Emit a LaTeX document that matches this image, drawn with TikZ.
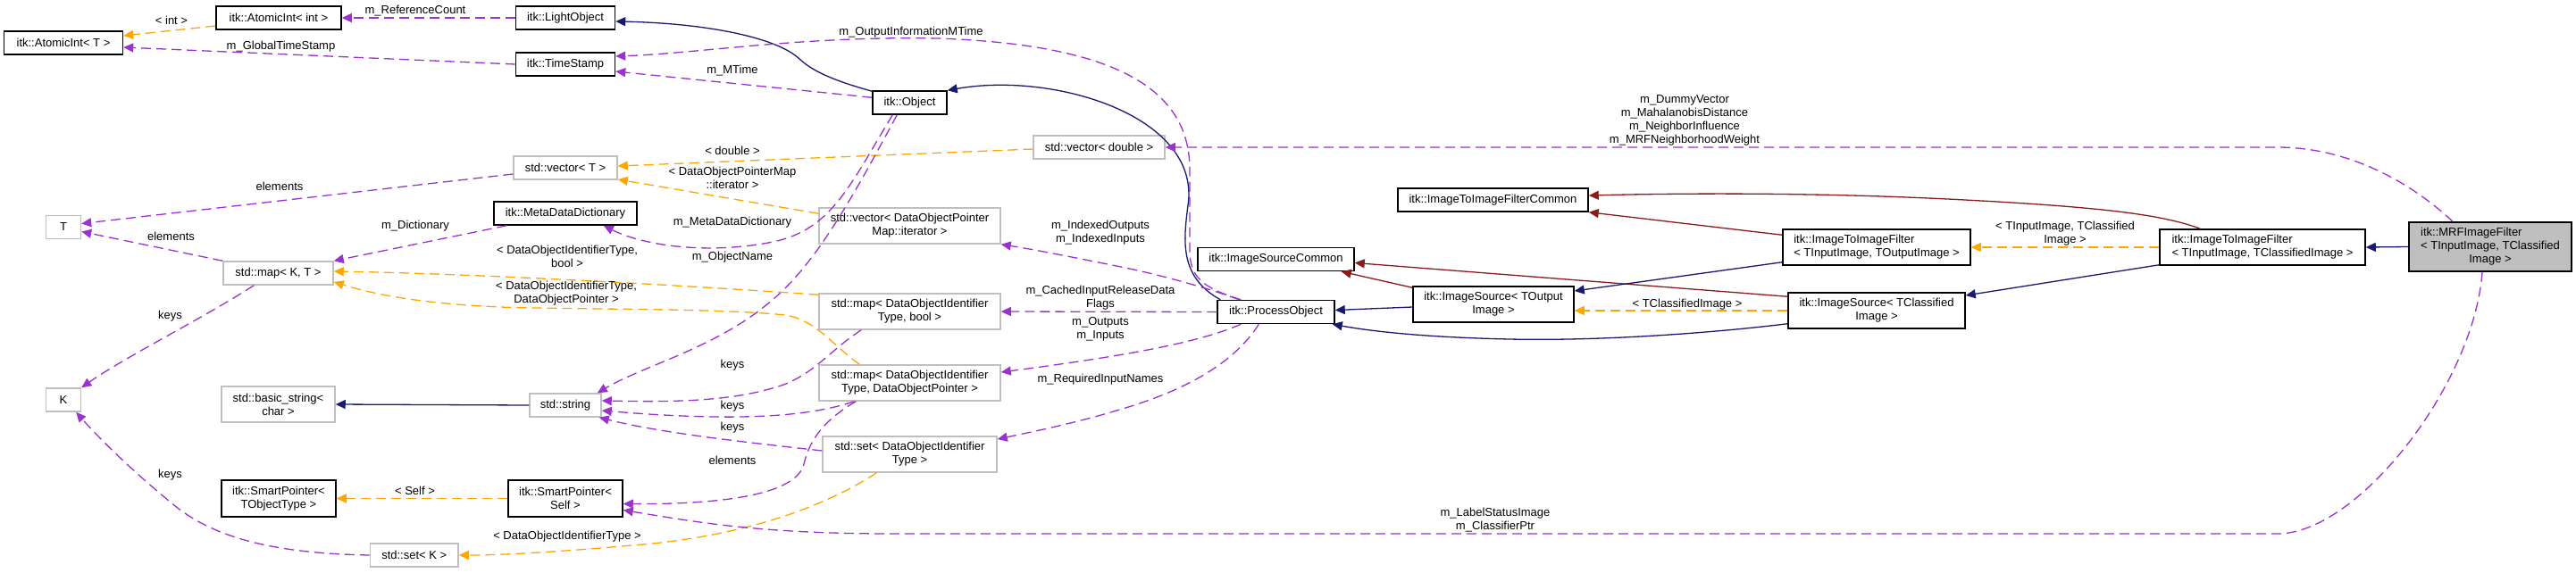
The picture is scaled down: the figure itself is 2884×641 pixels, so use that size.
\documentclass[tikz,border=0pt]{standalone}
\usepackage{fontspec}
\setmainfont{Liberation Sans}
\usetikzlibrary{arrows.meta}
\definecolor{cblue}{HTML}{191970}
\definecolor{cred}{HTML}{8B1A1A}
\definecolor{corange}{HTML}{FFA500}
\definecolor{cpurple}{HTML}{9A32CD}
\definecolor{cgray}{HTML}{BFBFBF}
\tikzset{
  boxk/.style={draw=black,line width=1.5pt,fill=white,inner sep=0pt,align=center},
  boxg/.style={draw=cgray,line width=1.5pt,fill=white,inner sep=0pt,align=center},
  wh/.style 2 args={minimum width=#1pt,minimum height=#2pt},
  tip/.style={-{Triangle[length=11pt,width=10pt]}},
  eblue/.style={draw=cblue,line width=1.3pt,tip},
  ered/.style={draw=cred,line width=1.3pt,tip},
  eorange/.style={draw=corange,line width=1.3pt,dash pattern=on 11pt off 6pt,tip},
  epurple/.style={draw=cpurple,line width=1.3pt,dash pattern=on 11pt off 6pt,tip},
  lbl/.style={inner sep=0pt,align=center}
}
\begin{document}
\begin{tikzpicture}[x=1pt,y=-1pt,
  every node/.style={font=\fontsize{13}{15}\selectfont}]
\useasboundingbox (0,0) rectangle (2884,641);

% nodes
\node[boxk,wh={133}{26}] (ait) at (71,48) {itk::AtomicInt< T >};
\node[boxk,wh={140}{26}] (aii) at (312,20) {itk::AtomicInt< int >};
\node[boxk,wh={111}{26}] (lo) at (633,20) {itk::LightObject};
\node[boxk,wh={111}{26}] (ts) at (633,72) {itk::TimeStamp};
\node[boxk,wh={83}{26}] (obj) at (1018.5,115) {itk::Object};
\node[boxg,wh={147}{26}] (vd) at (1230.5,165) {std::vector< double >};
\node[boxg,wh={116}{26}] (vt) at (633,188) {std::vector< T >};
\node[boxg,wh={39}{26}] (T) at (71,254.5) {T};
\node[boxk,wh={160}{26}] (mdd) at (633,239) {itk::MetaDataDictionary};
\node[boxg,wh={123}{26}] (mkt) at (311.5,306) {std::map< K, T >};
\node[boxg,wh={203}{40}] (vit) at (1018.5,253) {std::vector< DataObjectPointer\\Map::iterator >};
\node[boxg,wh={203}{40}] (mb) at (1018.5,349) {std::map< DataObjectIdentifier\\Type, bool >};
\node[boxg,wh={203}{40}] (mp) at (1018.5,429) {std::map< DataObjectIdentifier\\Type, DataObjectPointer >};
\node[boxg,wh={195}{40}] (sd) at (1018.5,509) {std::set< DataObjectIdentifier\\Type >};
\node[boxg,wh={39}{26}] (K) at (71,448) {K};
\node[boxg,wh={127}{40}] (bs) at (311.5,453) {std::basic\_string<\\char >};
\node[boxg,wh={80}{26}] (str) at (633,454) {std::string};
\node[boxk,wh={128}{41}] (spt) at (312,558.5) {itk::SmartPointer<\\TObjectType >};
\node[boxk,wh={128}{41}] (sps) at (633,558.5) {itk::SmartPointer<\\Self >};
\node[boxg,wh={98.5}{26}] (sk) at (463.75,622) {std::set< K >};
\node[boxk,wh={131}{26}] (po) at (1428.5,349.5) {itk::ProcessObject};
\node[boxk,wh={175}{26}] (isc) at (1428.5,290.5) {itk::ImageSourceCommon};
\node[boxk,wh={180}{40}] (iso) at (1672,341) {itk::ImageSource< TOutput\\Image >};
\node[boxk,wh={213}{26}] (i2ic) at (1671.5,224) {itk::ImageToImageFilterCommon};
\node[boxk,wh={210}{40},align=left] (i2o) at (2101,277) {itk::ImageToImageFilter\\< TInputImage, TOutputImage >};
\node[boxk,wh={198}{40}] (isc2) at (2101,348) {itk::ImageSource< TClassified\\Image >};
\node[boxk,wh={230}{40},align=left] (i2c) at (2533,277) {itk::ImageToImageFilter\\< TInputImage, TClassifiedImage >};
\node[boxk,wh={182}{55},fill=cgray] (mrf) at (2788,276.5) {\begin{tabular}{@{}l@{}}itk::MRFImageFilter\\< TInputImage, TClassified\\\multicolumn{1}{@{}c@{}}{Image >}\end{tabular}};

% edges
\draw[eorange] ([yshift=-9pt]aii.west) -- ([yshift=8pt]ait.east);
\draw[epurple] (lo.west) -- (aii.east);
\draw[epurple] (ts.west) -- ([yshift=-5pt]ait.east);
\draw[eblue] ([yshift=-1pt]obj.north west) .. controls (940,92) and (912,82) .. (895,66) .. controls (870,42) and (790,26) .. ([yshift=-4pt]lo.east);
\draw[epurple] ([yshift=-8pt]obj.north west) -- ([yshift=-8pt]ts.east);
\draw[epurple] ([xshift=27pt]po.north west) .. controls (1345,322) and (1332,310) .. (1332,280) -- (1332,190) .. controls (1332,100) and (1250,50) .. (1050,43) .. controls (900,40) and (780,60) .. ([yshift=9pt]ts.east);
\draw[eblue] ([xshift=4pt]po.north west) .. controls (1320,310) and (1325,270) .. (1330,230) .. controls (1345,130) and (1180,80) .. (obj.north east);
\draw[eorange] ([yshift=-2pt]vd.west) -- ([yshift=2pt]vt.east);
\draw[eorange] ([yshift=-7pt]vit.north west) -- ([yshift=-13pt]vt.east);
\draw[epurple] ([xshift=23pt]obj.south west) .. controls (950,210) and (930,260) .. (860,272) .. controls (790,285) and (720,275) .. ([xshift=-38pt]mdd.south east);
\draw[epurple] ([xshift=28pt]obj.south west) .. controls (950,230) and (910,300) .. (860,340) .. controls (800,390) and (720,410) .. ([xshift=-5pt]str.north east);
\draw[epurple] ([xshift=15pt]mdd.south west) -- (mkt.north east);
\draw[epurple] ([yshift=-7pt]vt.west) -- ([yshift=4pt]T.east);
\draw[epurple] (mkt.north west) -- ([yshift=-5pt]T.east);
\draw[eorange] ([yshift=-2pt]mb.north west) .. controls (800,322) and (550,307) .. ([yshift=2pt]mkt.east);
\draw[eorange] ([xshift=46pt]mp.north west) .. controls (930,385) and (915,360) .. (880,353) .. controls (800,345) and (650,347) .. (560,344) .. controls (470,340) and (420,330) .. ([yshift=-10pt]mkt.east);
\draw[epurple] ([xshift=35pt]mkt.south west) .. controls (230,355) and (140,400) .. (K.north east);
\draw[epurple] (sk.west) .. controls (300,620) and (240,600) .. (200,570) .. controls (150,530) and (110,490) .. ([xshift=-6pt]K.south east);
\draw[eorange] ([xshift=61pt]sd.south west) .. controls (920,570) and (830,600) .. (720,610) .. controls (640,617) and (570,622) .. (sk.east);
\draw[eblue] (str.west) -- (bs.east);
\draw[epurple] ([xshift=48pt]mb.south west) .. controls (930,392) and (915,415) .. (880,430) .. controls (820,452) and (740,450) .. ([yshift=5pt]str.east);
\draw[epurple] ([xshift=40pt]mp.south west) .. controls (920,462) and (870,468) .. (800,467) .. controls (740,466) and (700,462) .. ([yshift=-6pt]str.east);
\draw[epurple] ([yshift=4pt]sd.west) .. controls (830,495) and (740,485) .. ([xshift=-3pt]str.south east);
\draw[eorange] (sps.west) -- (spt.east);
\draw[epurple] ([xshift=42pt]mp.south west) .. controls (915,475) and (905,500) .. (900,520) .. controls (890,560) and (780,565) .. ([yshift=-6pt]sps.east);
\draw[epurple] ([xshift=-9pt]mrf.south) .. controls (2770,430) and (2640,598) .. (2550,598) -- (1000,598) .. controls (850,598) and (780,585) .. ([yshift=-13pt]sps.east);
\draw[epurple] ([xshift=25pt]po.north west) .. controls (1350,322) and (1300,308) .. (1250,298) .. controls (1200,288) and (1160,280) .. (vit.south east);
\draw[epurple] (po.west) -- (mb.east);
\draw[epurple] ([xshift=27pt]po.south west) .. controls (1340,385) and (1250,400) .. ([yshift=12pt]mp.east);
\draw[epurple] ([xshift=47pt]po.south west) .. controls (1380,410) and (1320,440) .. (1250,460) .. controls (1200,475) and (1150,485) .. ([yshift=17pt]sd.east);
\draw[epurple] ([xshift=-42pt]mrf.north) .. controls (2700,205) and (2630,165) .. (2550,165) -- (vd.east);
\draw[ered] ([yshift=-2pt]iso.north west) -- ([xshift=-15pt]isc.south east);
\draw[eblue] ([yshift=-3pt]iso.west) -- ([yshift=2pt]po.east);
\draw[ered] ([yshift=-5pt]isc2.north west) -- ([yshift=-4pt]isc.east);
\draw[eblue] ([yshift=6pt]isc2.south west) .. controls (1900,375) and (1780,382) .. (1690,380) .. controls (1600,378) and (1540,372) .. ([xshift=-3pt]po.south east);
\draw[eorange] (isc2.west) -- ([yshift=-7pt]iso.east);
\draw[eblue] ([yshift=4pt]i2o.south west) -- ([yshift=15pt]iso.east);
\draw[ered] ([yshift=-7pt]i2o.north west) -- (i2ic.south east);
\draw[ered] ([xshift=46pt]i2c.north west) .. controls (2420,240) and (2350,232) .. (2200,224) .. controls (2050,216) and (1900,216) .. ([yshift=5pt]i2ic.east);
\draw[eorange] (i2c.west) -- (i2o.east);
\draw[eblue] ([yshift=1pt]i2c.south west) -- ([yshift=17pt]isc2.east);
\draw[eblue] (mrf.west) -- (i2c.east);

% labels
\node[lbl] (l1) at (192,23) {< int >};
\node[lbl] (l2) at (465,12) {m\_ReferenceCount};
\node[lbl] (l3) at (314.5,52) {m\_GlobalTimeStamp};
\node[lbl] (l4) at (820,79) {m\_MTime};
\node[lbl] (l5) at (1020,36) {m\_OutputInformationMTime};
\node[lbl] (l6) at (820,169) {< double >};
\node[lbl] (l7) at (820,199.5) {< DataObjectPointerMap\\::iterator >};
\node[lbl] (l8) at (820,249) {m\_MetaDataDictionary};
\node[lbl] (l9) at (820,288) {m\_ObjectName};
\node[lbl] (l10) at (1232,260.5) {m\_IndexedOutputs\\m\_IndexedInputs};
\node[lbl] (l11) at (1232,333.5) {m\_CachedInputReleaseData\\Flags};
\node[lbl] (l12) at (1232,368.5) {m\_Outputs\\m\_Inputs};
\node[lbl] (l13) at (1232,425) {m\_RequiredInputNames};
\node[lbl] (l14) at (820,409) {keys};
\node[lbl] (l15) at (820,455) {keys};
\node[lbl] (l16) at (820,479) {keys};
\node[lbl] (l17) at (820,516) {elements};
\node[lbl] (l18) at (465,253) {m\_Dictionary};
\node[lbl] (l19) at (313,209) {elements};
\node[lbl] (l20) at (191.5,265) {elements};
\node[lbl] (l21) at (635,287.5) {< DataObjectIdentifierType,\\bool >};
\node[lbl] (l22) at (634,329) {< DataObjectIdentifierType,\\DataObjectPointer >};
\node[lbl] (l23) at (190.5,354) {keys};
\node[lbl] (l24) at (190.5,532) {keys};
\node[lbl] (l25) at (464.5,550) {< Self >};
\node[lbl] (l26) at (635,601) {< DataObjectIdentifierType >};
\node[lbl] (l27) at (1886,135) {m\_DummyVector\\m\_MahalanobisDistance\\m\_NeighborInfluence\\m\_MRFNeighborhoodWeight};
\node[lbl] (l28) at (1889,341) {< TClassifiedImage >};
\node[lbl] (l29) at (2312,262) {< TInputImage, TClassified\\Image >};
\node[lbl] (l30) at (1674,583) {m\_LabelStatusImage\\m\_ClassifierPtr};
\end{tikzpicture}
\end{document}
